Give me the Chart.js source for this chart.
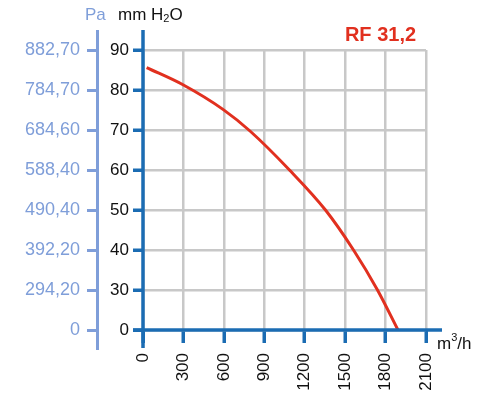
<!DOCTYPE html>
<html>
<head>
<meta charset="utf-8">
<script src="https://cdn.jsdelivr.net/npm/chart.js@4/dist/chart.umd.min.js"></script>
<style>
  html, body { margin: 0; padding: 0; background: #fff; }
  #wrap { width: 489px; height: 396px; position: relative; }
</style>
</head>
<body>
<div id="wrap"><canvas id="c" width="489" height="396"></canvas></div>
<script>
// ---- data ----
const flow = [27, 300, 596, 794, 1087, 1354, 1562, 1740, 1892];
const pressure = [85.6, 81.25, 75.1, 69.75, 60, 50, 40, 30, 0];
const mmTicks = [0, 30, 40, 50, 60, 70, 80, 90];
const paTicks = ['0', '294,20', '392,20', '490,40', '588,40', '684,60', '784,70', '882,70'];
const flowTicks = [0, 300, 600, 900, 1200, 1500, 1800, 2100];
const seriesName = 'RF 31,2';

const DARK = '#1b6cb3';
const LIGHT = '#7f9ed9';
const RED = '#e1301f';
const GRID = '#c8c8c8';
const FONT = '"Liberation Sans", Arial, sans-serif';

// Scale whose ticks are evenly spaced, values interpolated between ticks
class StepScale extends Chart.LinearScale {
  static id = 'step';
  static defaults = {};
  buildTicks() {
    const tv = this.options.tickValues;
    this.min = tv[0];
    this.max = tv[tv.length - 1];
    return tv.map(v => ({ value: v }));
  }
  getPixelForValue(v) {
    const tv = this.options.tickValues, n = tv.length - 1;
    let i = 0;
    while (i < n - 1 && v > tv[i + 1]) i++;
    const f = (i + (v - tv[i]) / (tv[i + 1] - tv[i])) / n;
    return this.getPixelForDecimal(f);
  }
  getValueForPixel(p) {
    const tv = this.options.tickValues, n = tv.length - 1;
    const d = this.getDecimalForPixel(p) * n;
    const i = Math.min(n - 1, Math.max(0, Math.floor(d)));
    return tv[i] + (d - i) * (tv[i + 1] - tv[i]);
  }
}
Chart.register(StepScale);

const extras = {
  id: 'extras',
  afterDraw(chart) {
    const ctx = chart.ctx;
    const pa = chart.scales.pa;
    const ca = chart.chartArea;
    ctx.save();
    ctx.lineCap = 'butt';
    // Pa axis line
    ctx.strokeStyle = LIGHT; ctx.lineWidth = 3;
    ctx.beginPath(); ctx.moveTo(pa.right - 1.5, ca.top - 20); ctx.lineTo(pa.right - 1.5, ca.bottom + 20); ctx.stroke();
    // mm axis line
    ctx.strokeStyle = DARK; ctx.lineWidth = 3.5;
    ctx.beginPath(); ctx.moveTo(ca.left, ca.top - 20); ctx.lineTo(ca.left, ca.bottom + 18); ctx.stroke();
    // x axis line
    ctx.beginPath(); ctx.moveTo(ca.left - 10, ca.bottom); ctx.lineTo(ca.right + 16, ca.bottom); ctx.stroke();

    // headers
    ctx.textBaseline = 'alphabetic';
    ctx.textAlign = 'left';
    ctx.fillStyle = LIGHT;
    ctx.font = '17px ' + FONT;
    ctx.fillText('Pa', 85, 20);
    ctx.fillStyle = '#111';
    let px = 118;
    ctx.fillText('mm H', px, 20); px += ctx.measureText('mm H').width;
    ctx.font = '11px ' + FONT;
    ctx.fillText('2', px, 22); px += ctx.measureText('2').width;
    ctx.font = '17px ' + FONT;
    ctx.fillText('O', px, 20);

    // unit of x
    px = ca.right + 11;
    ctx.fillText('m', px, 349); px += ctx.measureText('m').width;
    ctx.font = '11px ' + FONT;
    ctx.fillText('3', px, 341); px += ctx.measureText('3').width;
    ctx.font = '17px ' + FONT;
    ctx.fillText('/h', px, 349);

    // series label
    ctx.fillStyle = RED;
    ctx.font = 'bold 20px ' + FONT;
    ctx.textAlign = 'center';
    ctx.fillText(seriesName, 380.5, 41);
    ctx.restore();
  }
};

new Chart(document.getElementById('c'), {
  type: 'line',
  data: {
    datasets: [{
      label: seriesName,
      data: flow.map((f, i) => ({ x: f, y: pressure[i] })),
      borderColor: RED,
      borderWidth: 3,
      pointRadius: 0,
      fill: false,
      cubicInterpolationMode: 'monotone',
      yAxisID: 'y'
    }]
  },
  options: {
    responsive: false,
    animation: false,
    devicePixelRatio: 1,
    layout: { padding: { left: 0, right: 63, top: 50, bottom: 0 } },
    plugins: { legend: { display: false }, tooltip: { enabled: false }, title: { display: false } },
    scales: {
      x: {
        type: 'linear',
        position: 'bottom',
        min: 0, max: 2100,
        afterBuildTicks: s => { s.ticks = flowTicks.map(v => ({ value: v })); },
        afterFit: s => { s.height = 66; },
        grid: { color: GRID, lineWidth: 2.5, tickColor: DARK, tickWidth: 3.5, tickLength: 13 },
        border: { display: false },
        ticks: {
          autoSkip: false, minRotation: 90, maxRotation: 90, padding: 10,
          color: '#111', font: { family: FONT, size: 17 },
          callback: v => String(v)
        }
      },
      y: {
        type: 'step',
        position: 'left',
        weight: 0,
        min: 0, max: 90,
        tickValues: mmTicks,
        afterFit: s => { s.width = 44; },
        grid: { color: GRID, lineWidth: 2.5, tickColor: DARK, tickWidth: 3.5, tickLength: 10 },
        border: { display: false },
        ticks: {
          autoSkip: false, padding: 4,
          color: '#111', font: { family: FONT, size: 17 },
          callback: v => String(v)
        }
      },
      pa: {
        type: 'step',
        position: 'left',
        weight: 1,
        min: 0, max: 90,
        tickValues: mmTicks,
        afterFit: s => { s.width = 99; },
        grid: { drawOnChartArea: false, tickColor: LIGHT, tickWidth: 3, tickLength: 12 },
        border: { display: false },
        ticks: {
          autoSkip: false, padding: 7,
          color: LIGHT, font: { family: FONT, size: 18 },
          callback: (v, i) => paTicks[i]
        }
      }
    }
  },
  plugins: [extras]
});
</script>
</body>
</html>
